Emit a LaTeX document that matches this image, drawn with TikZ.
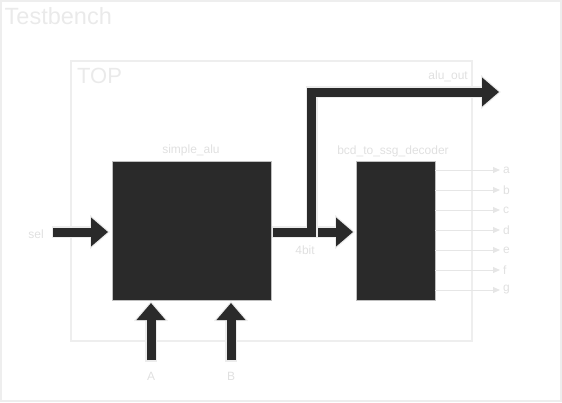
\documentclass[tikz,border=0pt]{standalone}
\usepackage{fontspec}
\setmainfont{Liberation Sans}
\usetikzlibrary{arrows.meta}
\definecolor{frame}{HTML}{EEEEEE}
\definecolor{lbl}{HTML}{E0E0E0}
\definecolor{big}{HTML}{EAEAEA}
\definecolor{blk}{HTML}{2A2A2A}
\definecolor{halo}{HTML}{ECECEC}
\definecolor{thin}{HTML}{E6E6E6}
\tikzset{
  framebox/.style={draw=frame, line width=1.6pt},
  bigtitle/.style={text=big, inner sep=0pt, anchor=base west},
  smalllbl/.style={text=lbl, font=\fontsize{12}{14}\selectfont, inner sep=0pt},
  block/.style={fill=blk, draw=black!25, line width=1pt, inner sep=0pt},
  fatwire/.style={draw=blk, line width=9pt, -{Triangle[length=17pt,width=28pt]}, line join=miter,
    preaction={draw=halo, line width=12pt, -{Triangle[length=20pt,width=33pt]}, shorten >=-2pt, shorten <=-1.5pt}},
  thinwire/.style={draw=thin, line width=1pt, -{Triangle[length=7pt,width=6pt]}},
}
\begin{document}
\begin{tikzpicture}[x=1pt,y=-1pt]
\useasboundingbox (0,0) rectangle (562,402);
% frames
\draw[framebox] (1,1) rectangle (561,401);
\node[bigtitle, font=\fontsize{23.5}{27}\selectfont] (tbt) at (4.5,24.3) {Testbench};
\draw[framebox] (71,61) rectangle (472,341);
\node[bigtitle, font=\fontsize{22}{26}\selectfont] (topt) at (77,83.5) {TOP};
% blocks
\node[block, minimum width=159pt, minimum height=139pt] (alu) at (191.5,230.5) {};
\node[block, minimum width=79pt, minimum height=139pt] (dec) at (395.5,230.5) {};
\node[smalllbl] (alul) at (191,150) {simple\_alu};
\node[smalllbl] (decl) at (393,151) {bcd\_to\_ssg\_decoder};
% coordinates
\coordinate (selS) at (53,232);
\coordinate (selE) at (108,232);
\coordinate (aS) at (151,360);
\coordinate (aE) at (151,303);
\coordinate (bS) at (231,360);
\coordinate (bE) at (231,303);
\coordinate (oS) at (273,232);
\coordinate (oC1) at (311.5,232);
\coordinate (oC2) at (311.5,92);
\coordinate (oE) at (499,92);
\coordinate (dS) at (318,232);
\coordinate (dE) at (353,232);
% fat wires
\draw[fatwire] (selS) -- (selE);
\draw[fatwire] (aS) -- (aE);
\draw[fatwire] (bS) -- (bE);
\draw[fatwire] (oS) -- (oC1) -- (oC2) -- (oE);
\draw[fatwire] (dS) -- (dE);
% labels
\node[smalllbl] (sell) at (36,234) {sel};
\node[smalllbl] (al) at (151,376) {A};
\node[smalllbl] (bl) at (231,376) {B};
\node[smalllbl, anchor=east] (aol) at (468,76) {alu\_out};
\node[smalllbl] (bitl) at (305,250) {4bit};
% outputs
\foreach \n/\y in {a/170,b/190,c/210,d/230,e/250,f/270,g/290}{
  \coordinate (s\n) at (435,\y);
  \coordinate (t\n) at (500,\y);
  \draw[thinwire] (s\n) -- (t\n);
  \node[smalllbl, anchor=west] (l\n) at (503,\y) {\n};
}
\end{tikzpicture}
\end{document}
